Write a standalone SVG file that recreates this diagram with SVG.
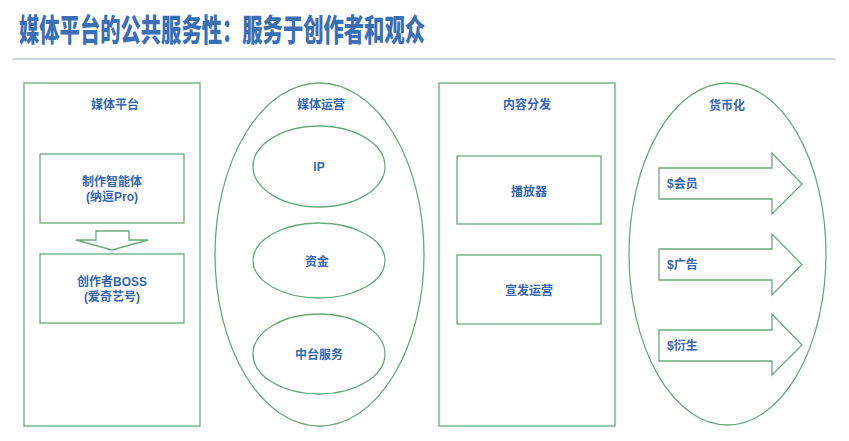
<svg xmlns="http://www.w3.org/2000/svg" width="849" height="441" viewBox="0 0 849 441">
<style>
.shape{fill:#ffffff;stroke:#6aa97c;stroke-width:1.3}
.t{font-family:"Liberation Sans","Noto Sans CJK SC",sans-serif;font-size:12px;font-weight:bold;fill:#3566b0;text-anchor:middle;dominant-baseline:central}
.tl{text-anchor:start}
.title{font-family:"Noto Sans CJK SC","Liberation Sans",sans-serif;font-size:31px;font-weight:900;fill:#3a6fb5;dominant-baseline:central}
</style>
<rect width="849" height="441" fill="#ffffff"/>
<text class="title" x="19" y="27.5" textLength="406" lengthAdjust="spacingAndGlyphs">媒体平台的公共服务性：服务于创作者和观众</text>
<line x1="13" y1="59" x2="835" y2="59" stroke="#c9d1dd" stroke-width="2"/>

<g id="media-platform">
<rect class="shape" x="24" y="83" width="176" height="343"/>
<text class="t" x="115" y="105">媒体平台</text>
</g>
<g id="zhizuo">
<rect class="shape" x="40" y="154" width="144" height="69"/>
<text class="t" x="112" y="182">制作智能体</text>
<text class="t" x="112" y="197">(纳逗Pro)</text>
</g>
<g id="chuangzuozhe">
<rect class="shape" x="40" y="254" width="144" height="69"/>
<text class="t" x="112" y="282">创作者BOSS</text>
<text class="t" x="112" y="297">(爱奇艺号)</text>
</g>

<g id="media-ops">
<ellipse class="shape" cx="319.5" cy="254.5" rx="104.5" ry="171.5"/>
<text class="t" x="321" y="105">媒体运营</text>
</g>
<g id="ip">
<ellipse class="shape" cx="319" cy="166.5" rx="66" ry="40.5"/>
<text class="t" x="319" y="167">IP</text>
</g>
<g id="zijin">
<ellipse class="shape" cx="319" cy="260.5" rx="66" ry="37.5"/>
<text class="t" x="317" y="262">资金</text>
</g>
<g id="zhongtai">
<ellipse class="shape" cx="319" cy="354" rx="66" ry="40"/>
<text class="t" x="319" y="355">中台服务</text>
</g>

<g id="distribution">
<rect class="shape" x="439" y="83" width="176" height="343"/>
<text class="t" x="527" y="105">内容分发</text>
</g>
<g id="player">
<rect class="shape" x="457" y="156" width="144" height="68"/>
<text class="t" x="529" y="192">播放器</text>
</g>
<g id="xuanfa">
<rect class="shape" x="457" y="255" width="144" height="69"/>
<text class="t" x="529" y="291">宣发运营</text>
</g>

<g id="monetization">
<ellipse class="shape" cx="727.5" cy="254" rx="98.5" ry="171"/>
<text class="t" x="727" y="106">货币化</text>
</g>
<g id="huiyuan">
<polygon class="shape" points="659,168 772,168 772,153 802,184 772,214 772,199 659,199"/>
<text class="t tl" x="667" y="184">$会员</text>
</g>
<g id="guanggao">
<polygon class="shape" points="659,249 772,249 772,234 802,264.5 772,295 772,280 659,280"/>
<text class="t tl" x="667" y="265">$广告</text>
</g>
<g id="yansheng">
<polygon class="shape" points="659,330 772,330 772,314 802,345 772,375 772,361 659,361"/>
<text class="t tl" x="667" y="346">$衍生</text>
</g>

<g id="connectors">
<polygon class="shape" points="96,231 129,231 129,240 148,240 112,250 76,240 96,240"/>
</g>
</svg>
